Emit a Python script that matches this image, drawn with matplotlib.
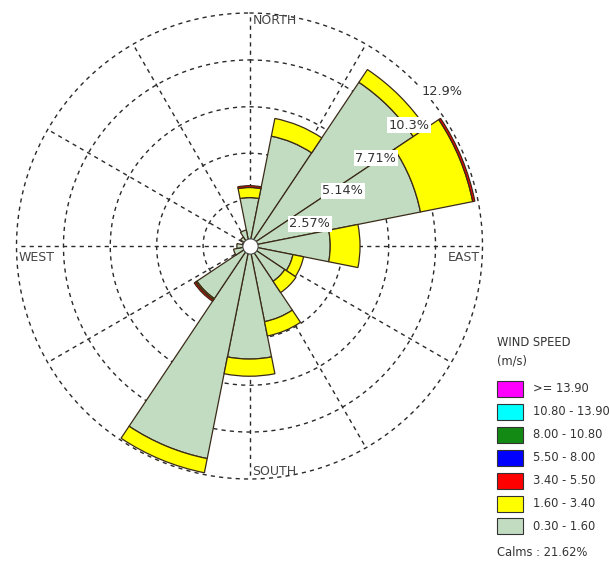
import numpy as np
import matplotlib.pyplot as plt
from matplotlib.patches import Rectangle

# directions clockwise from north
directions = ['N', 'NNE', 'NE', 'ENE', 'E', 'ESE', 'SE', 'SSE',
              'S', 'SSW', 'SW', 'WSW', 'W', 'WNW', 'NW', 'NNW']
# frequency (%) per speed class, stacked from the centre outwards
spd_030_160 = [2.68, 6.2, 10.9, 9.65, 4.47, 2.45, 2.35, 4.27,
               6.26, 12.0, 3.5, 0.9, 0.7, 0.4, 0.6, 0.9]
spd_160_340 = [0.56, 1.0, 0.85, 2.95, 1.65, 0.6, 0.75, 0.81,
               0.95, 0.8, 0.08, 0, 0, 0, 0, 0]
spd_340_550 = [0.1, 0, 0, 0.12, 0, 0, 0, 0,
               0, 0, 0.1, 0, 0, 0, 0, 0]

ring_vals = [2.57, 5.14, 7.71, 10.3, 12.9]
ring_labels = ['2.57%', '5.14%', '7.71%', '10.3%', '12.9%']

legend_labels = ['>= 13.90', '10.80 - 13.90', '8.00 - 10.80', '5.50 - 8.00',
                 '3.40 - 5.50', '1.60 - 3.40', '0.30 - 1.60']
legend_colors = ['#ff00ff', '#00ffff', '#138a13', '#0000ff',
                 '#ff0000', '#ffff00', '#c2dcc2']
calms = 'Calms : 21.62%'

W, H = 609, 563
fig = plt.figure(figsize=(W / 100, H / 100), dpi=100)
fig.patch.set_facecolor('white')

cx, cy, R = 249.5, 246, 233
ax = fig.add_axes([(cx - R) / W, (H - cy - R) / H, 2 * R / W, 2 * R / H],
                  projection='polar')
ax.set_theta_zero_location('N')
ax.set_theta_direction(-1)
ax.set_ylim(0, 12.9)
ax.grid(False)
ax.set_xticks([])
ax.set_yticks([])
ax.spines['polar'].set_visible(False)
ax.patch.set_alpha(0)

dash = (0, (3, 3))
gc = '#2a2a2a'
tt = np.linspace(0, 2 * np.pi, 400)
for v in ring_vals:
    ax.plot(tt, np.full_like(tt, v), color=gc, lw=1, ls=dash, clip_on=False, zorder=1)
for a in np.arange(0, 360, 30):
    ax.plot([np.radians(a)] * 2, [0, ring_vals[-1]], color=gc, lw=1, ls=dash,
            clip_on=False, zorder=1)

theta = np.radians(np.arange(16) * 22.5)
wd = np.radians(22.5)
ec = '#3a2a18'
bottom = np.zeros(16)
for vals, col in [(spd_030_160, legend_colors[6]), (spd_160_340, legend_colors[5]),
                  (spd_340_550, legend_colors[4])]:
    vals = np.array(vals)
    m = vals > 0
    ax.bar(theta[m], vals[m], width=wd, bottom=bottom[m], color=col,
           edgecolor=ec, linewidth=0.9, zorder=2, clip_on=False)
    bottom += vals

ax.plot([0], [0], 'o', ms=11, mfc='white', mec='#444444', mew=0.8, zorder=5)

for v, lab in zip(ring_vals, ring_labels):
    ax.annotate(lab, xy=(np.pi / 4, v), xytext=(27.6, -10.6),
                textcoords='offset pixels', ha='center', va='center',
                fontsize=9.3, color='#333333', zorder=6,
                bbox=dict(boxstyle='square,pad=0.12', fc='white', ec='none'))

tkw = dict(textcoords='offset pixels', fontsize=9, color='#444444', zorder=6)
ax.annotate('NORTH', xy=(0, 12.9), xytext=(3, -1), ha='left', va='top', **tkw)
ax.annotate('SOUTH', xy=(np.pi, 12.9), xytext=(3, 1), ha='left', va='bottom', **tkw)
ax.annotate('WEST', xy=(1.5 * np.pi, 12.9), xytext=(2, -5), ha='left', va='top', **tkw)
ax.annotate('EAST', xy=(0.5 * np.pi, 12.9), xytext=(-3, -5), ha='right', va='top', **tkw)

# legend
lc = '#333333'
fig.text(497 / W, 1 - 342 / H, 'WIND SPEED', fontsize=8.3, color=lc, va='center')
fig.text(497 / W, 1 - 361 / H, '(m/s)', fontsize=8.3, color=lc, va='center')
for i, (lab, col) in enumerate(zip(legend_labels, legend_colors)):
    ytop = 381 + i * 22.9
    fig.patches.append(Rectangle((497 / W, 1 - (ytop + 16) / H), 26 / W, 16 / H,
                                 transform=fig.transFigure, facecolor=col,
                                 edgecolor='#333333', linewidth=0.8))
    fig.text(533 / W, 1 - (ytop + 8) / H, lab, fontsize=8.3, color=lc, va='center')
fig.text(497 / W, 1 - 552 / H, calms, fontsize=8.3, color=lc, va='center')

fig.savefig('out.png', dpi=100, facecolor='white')
